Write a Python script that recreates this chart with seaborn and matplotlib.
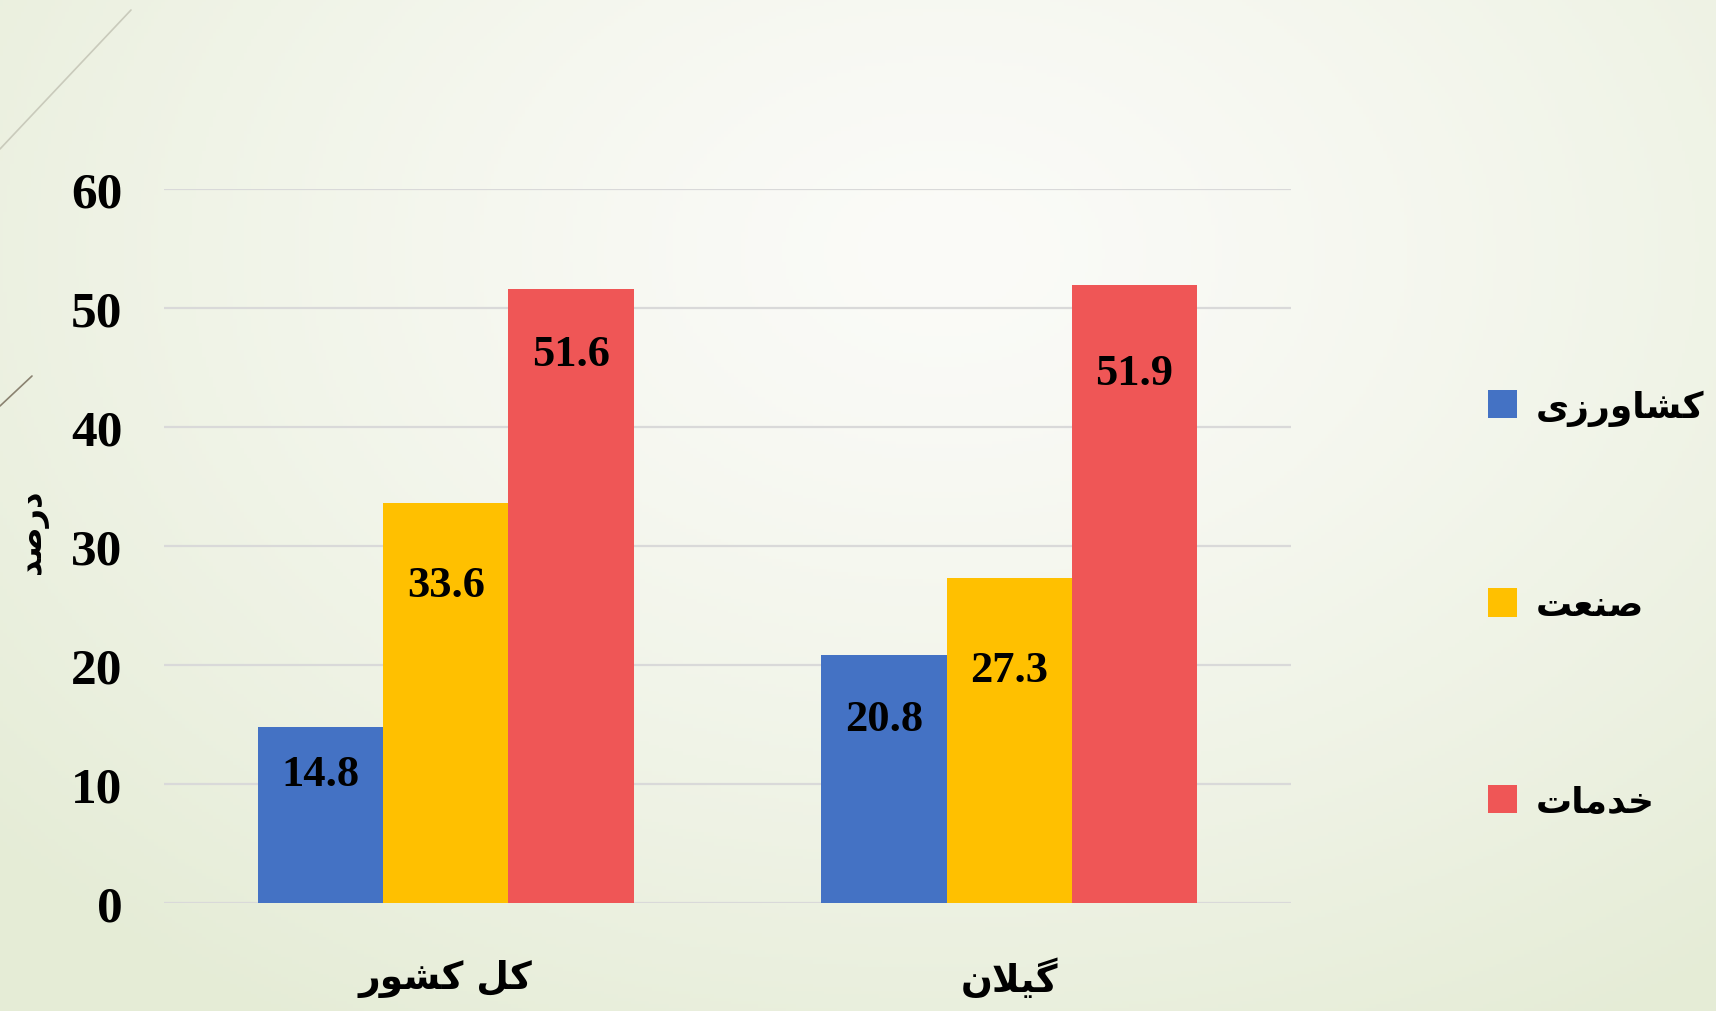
import numpy as np
import pandas as pd
import seaborn as sns
import matplotlib.pyplot as plt
from matplotlib.patches import Patch

# data
regions = ["کل کشور", "گیلان"]
sectors = ["کشاورزی", "صنعت", "خدمات"]
agriculture = [14.8, 20.8]
industry = [33.6, 27.3]
services = [51.6, 51.9]
y_label = "درصد"
y_ticks = [0, 10, 20, 30, 40, 50, 60]

colors = ["#4472C4", "#FFC000", "#EF5656"]
# how far below each bar top the value label sits (px), per sector then region
label_drop = [[47, 64], [82, 92], [65, 88]]


# tiny arabic-script shaper: matplotlib has no shaping, so pick presentation forms
FORMS = {
    "ا": (0xFE8D, 0xFE8E, None, None),
    "ت": (0xFE95, 0xFE96, 0xFE97, 0xFE98),
    "خ": (0xFEA5, 0xFEA6, 0xFEA7, 0xFEA8),
    "د": (0xFEA9, 0xFEAA, None, None),
    "ر": (0xFEAD, 0xFEAE, None, None),
    "ز": (0xFEAF, 0xFEB0, None, None),
    "ش": (0xFEB5, 0xFEB6, 0xFEB7, 0xFEB8),
    "ص": (0xFEB9, 0xFEBA, 0xFEBB, 0xFEBC),
    "ع": (0xFEC9, 0xFECA, 0xFECB, 0xFECC),
    "ل": (0xFEDD, 0xFEDE, 0xFEDF, 0xFEE0),
    "م": (0xFEE1, 0xFEE2, 0xFEE3, 0xFEE4),
    "ن": (0xFEE5, 0xFEE6, 0xFEE7, 0xFEE8),
    "و": (0xFEED, 0xFEEE, None, None),
    "ک": (0xFB8E, 0xFB8F, 0xFB90, 0xFB91),
    "گ": (0xFB92, 0xFB93, 0xFB94, 0xFB95),
    "ی": (0xFBFC, 0xFBFD, 0xFBFE, 0xFBFF),
}


def joins_left(ch):
    return ch in FORMS and FORMS[ch][2] is not None


def shape(text):
    out = []
    i = 0
    while i < len(text):
        ch = text[i]
        prev = text[i - 1] if i > 0 else ""
        nxt = text[i + 1] if i + 1 < len(text) else ""
        if ch not in FORMS:
            out.append(ch)
            i += 1
            continue
        jp = joins_left(prev)
        if ch == "ل" and nxt == "ا":
            out.append(chr(0xFEFC if jp else 0xFEFB))
            i += 2
            continue
        jn = joins_left(ch) and nxt in FORMS
        iso, fin, ini, med = FORMS[ch]
        if jp and jn:
            code = med
        elif jp:
            code = fin
        elif jn:
            code = ini
        else:
            code = iso
        out.append(chr(code))
        i += 1
    return "".join(reversed(out))


df = pd.DataFrame({
    "region": regions * 3,
    "sector": [s for s in sectors for _ in regions],
    "value": agriculture + industry + services,
})

sns.set_style("white")
plt.rcParams["text.color"] = "black"
plt.rcParams["xtick.color"] = "black"
plt.rcParams["ytick.color"] = "black"
fa_font = "DejaVu Sans"
num_font = "Liberation Serif"

fig = plt.figure(figsize=(17.16, 10.12), dpi=100)

# slide background: soft radial gradient, whitish middle, pale green edges
bg = fig.add_axes([0, 0, 1, 1], zorder=-5)
yy, xx = np.mgrid[0:1:300j, 0:1:500j]
r = np.sqrt(((xx - 0.55) / 0.75) ** 2 + ((yy - 0.25) / 0.9) ** 2)
t = np.clip(r, 0, 1)[..., None] ** 1.3
c_mid = np.array([251, 251, 248]) / 255
c_edge = np.array([229, 236, 214]) / 255
bg.imshow(c_mid * (1 - t) + c_edge * t, aspect="auto", extent=[0, 1, 0, 1])
bg.set_xlim(0, 1)
bg.set_ylim(0, 1)
bg.axis("off")
bg.plot([0, 131 / 1716], [1 - 150 / 1012, 1 - 11 / 1012], color="#c9cabb", lw=1.2)
bg.plot([0, 32 / 1716], [1 - 407 / 1012, 1 - 377 / 1012], color="#8a8270", lw=1.2)

ax = fig.add_axes([164 / 1716, 1 - 904 / 1012, 1127 / 1716, 714 / 1012])
ax.set_facecolor("none")

sns.barplot(
    data=df, x="region", y="value", hue="sector", hue_order=sectors,
    palette=colors, saturation=1, width=0.667, ax=ax, legend=False,
    linewidth=0, zorder=3,
)

ax.set_xlim(-0.5, 1.5)
ax.set_ylim(0, 60)
ax.set_yticks(y_ticks)
ax.yaxis.grid(True, color="#d9d9d9", lw=1.6, zorder=0)
ax.set_axisbelow(True)
for sp in ax.spines.values():
    sp.set_visible(False)
ax.tick_params(axis="both", length=0, labelcolor="black")
ax.tick_params(axis="y", pad=30)
ax.tick_params(axis="x", pad=40)
for lab in ax.get_yticklabels():
    lab.set_fontfamily(num_font)
    lab.set_fontweight("bold")
    lab.set_fontsize(37)
ax.set_xticks([0, 1])
ax.set_xticklabels([shape(s) for s in regions], fontfamily=fa_font,
                   fontweight="bold", fontsize=27)
ax.set_xlabel("")
ax.set_ylabel("")

# value labels inside the bars
for ci, cont in enumerate(ax.containers):
    for ri, bar in enumerate(cont):
        h = bar.get_height()
        ax.annotate(
            f"{h:.1f}", (bar.get_x() + bar.get_width() / 2, h),
            xytext=(0, -label_drop[ci][ri] * 0.72), textcoords="offset points",
            ha="center", va="center", fontfamily=num_font, fontweight="bold",
            fontsize=32, color="black", zorder=5,
        )

fig.text(33 / 1716, 1 - 532 / 1012, shape(y_label), rotation=90,
         ha="center", va="center", fontfamily=fa_font, fontweight="bold",
         fontsize=23, color="black")

handles = [Patch(facecolor=c, edgecolor="none") for c in colors]
leg = fig.legend(
    handles, [shape(s) for s in sectors], loc="center left",
    bbox_to_anchor=(1455 / 1716, 1 - 605 / 1012), frameon=False,
    prop={"family": fa_font, "weight": "bold", "size": 26},
    handlelength=0.83, handleheight=0.83, handletextpad=0.5, labelspacing=4.5,
    labelcolor="black",
)

fig.savefig("out.png", dpi=100)
